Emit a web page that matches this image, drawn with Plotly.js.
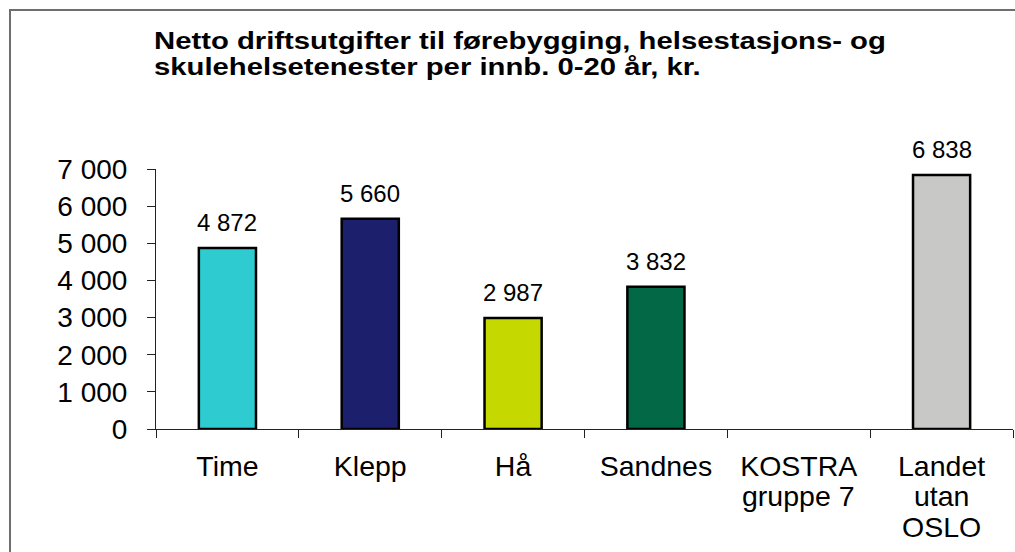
<!DOCTYPE html>
<html>
<head>
<meta charset="utf-8">
<script src="https://cdn.plot.ly/plotly-3.0.1.min.js"></script>
<style>
  html, body { margin: 0; padding: 0; background: #fff; }
  #wrap { position: relative; width: 1015px; height: 552px; overflow: hidden; }
  #chart { position: absolute; left: 0; top: 0; width: 1015px; height: 552px; }
  #frame { position: absolute; left: 9px; top: 9px; width: 1100px; height: 700px;
           border: 2px solid #6e6e6e; pointer-events: none; }
  /* the reference title is drawn horizontally stretched, with tight line spacing */
  #chart .gtitle { transform-origin: 154px 0px; transform: scaleX(1.22); }
  #chart .gtitle-subtitle { transform-origin: 154px 0px; transform: translateY(-34px) scaleX(1.22); }
</style>
</head>
<body>
<div id="wrap">
  <div id="chart"></div>
  <div id="frame"></div>
</div>
<script>
// category labels, one entry per line of each label
const categoryLines = [["Time"], ["Klepp"], ["Hå"], ["Sandnes"], ["KOSTRA", "gruppe 7"], ["Landet", "utan", "OSLO"]];
const values = [4872, 5660, 2987, 3832, null, 6838];
const barColors = ["#2ECCD0", "#1B1F6C", "#C5D800", "#026845", "#FFFFFF", "#C8C8C7"];
const yTicks = [0, 1000, 2000, 3000, 4000, 5000, 6000, 7000];
const titleLine1 = "Netto driftsutgifter til førebygging, helsestasjons- og";
const titleLine2 = "skulehelsetenester per innb. 0-20 år, kr.";

function fmt(v) { return String(v).replace(/\B(?=(\d{3})+(?!\d))/g, " "); }

const FONT = "Liberation Sans, Arial, sans-serif";
const categories = categoryLines.map(l => l.join(" "));

const trace = {
  type: "bar",
  x: categories,
  y: values,
  marker: { color: barColors, line: { color: "#000", width: 2.5 } },
  hoverinfo: "skip"
};

const annotations = [];
categories.forEach((c, i) => {
  if (values[i] !== null) {
    annotations.push({
      x: c, y: values[i], xref: "x", yref: "y",
      text: fmt(values[i]), showarrow: false,
      yanchor: "bottom", yshift: 10,
      font: { family: FONT, size: 24, color: "#000" }
    });
  }
  // extra lines of multi-line category labels
  categoryLines[i].slice(1).forEach((line, k) => {
    annotations.push({
      x: c, y: 0, xref: "x", yref: "paper",
      text: line, showarrow: false,
      yanchor: "middle", yshift: -(35.3 + 31.5 * (k + 1)),
      font: { family: FONT, size: 28.5, color: "#000" }
    });
  });
});

const layout = {
  width: 1015, height: 552,
  margin: { l: 156, r: 2, t: 169, b: 123, pad: 0 },
  paper_bgcolor: "#fff", plot_bgcolor: "#fff",
  showlegend: false,
  bargap: 0.6,
  title: {
    text: titleLine1,
    subtitle: { text: titleLine2, font: { family: FONT, size: 24, color: "#000", weight: "bold" } },
    font: { family: FONT, size: 24, color: "#000", weight: "bold" },
    xref: "container", yref: "container",
    x: 154 / 1015, xanchor: "left",
    y: 1 - 32 / 552, yanchor: "top"
  },
  xaxis: {
    type: "category",
    tickvals: categories,
    ticktext: categoryLines.map(l => l[0]),
    showline: true, linecolor: "#222", linewidth: 1,
    ticks: "outside", ticklen: 8, tickcolor: "#222", tickwidth: 1,
    tickson: "boundaries",
    showgrid: false, zeroline: false,
    ticklabelstandoff: 12,
    tickfont: { family: FONT, size: 28.5, color: "#000" }
  },
  yaxis: {
    range: [0, 7000],
    tickvals: yTicks,
    ticktext: yTicks.map(fmt),
    showline: true, linecolor: "#222", linewidth: 1,
    ticks: "outside", ticklen: 8, tickcolor: "#222", tickwidth: 1,
    showgrid: false, zeroline: false,
    ticklabelstandoff: 14,
    tickfont: { family: FONT, size: 28, color: "#000" }
  },
  annotations: annotations
};

Plotly.newPlot("chart", [trace], layout, { staticPlot: true, displayModeBar: false });
</script>
</body>
</html>
